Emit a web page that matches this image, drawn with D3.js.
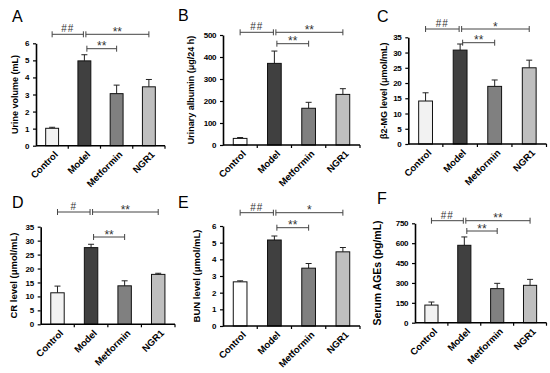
<!DOCTYPE html>
<html>
<head>
<meta charset="utf-8">
<title>Renal function panels</title>
<script src="https://d3js.org/d3.v7.min.js"></script>
<style>
  body { margin: 0; background: #fff; }
  svg text { font-family: Arial, "Liberation Sans", sans-serif; }
</style>
</head>
<body>
<div id="chart"></div>
<script>
// groups shared by all six panels
const categories = ["Control", "Model", "Metformin", "NGR1"];

// values (mean, upper error)
const urineVolume = [1.02, 4.97, 3.05, 3.45];
const urineVolumeErr = [0.06, 0.36, 0.5, 0.43];
const urinaryAlbumin = [30, 371, 167, 230];
const urinaryAlbuminErr = [4, 56, 27, 26];
const b2mgLevel = [14.1, 30.8, 18.9, 25.0];
const b2mgLevelErr = [2.7, 2.0, 2.1, 2.5];
const crLevel = [11.3, 27.5, 13.8, 17.9];
const crLevelErr = [2.4, 1.2, 1.8, 0.4];
const bunLevel = [2.65, 5.16, 3.47, 4.45];
const bunLevelErr = [0.06, 0.24, 0.28, 0.26];
const serumAGEs = [133, 584, 257, 282];
const serumAGEsErr = [23, 63, 40, 45];

// tick labels
const ticksA = [0, 1, 2, 3, 4, 5, 6];
const ticksB = [0, 100, 200, 300, 400, 500];
const ticksC = [0, 5, 10, 15, 20, 25, 30, 35];
const ticksD = [0, 5, 10, 15, 20, 25, 30, 35];
const ticksE = [0, 1, 2, 3, 4, 5, 6];
const ticksF = [0, 150, 300, 450, 600, 750];

// significance marks: [from group, to group, label]
const sigA = [[0, 1, "##"], [1, 3, "**"], [1, 2, "**"]];
const sigB = [[0, 1, "##"], [1, 3, "**"], [1, 2, "**"]];
const sigC = [[0, 1, "##"], [1, 3, "*"], [1, 2, "**"]];
const sigD = [[0, 1, "#"], [1, 3, "**"], [1, 2, "**"]];
const sigE = [[0, 1, "##"], [1, 3, "*"], [1, 2, "**"]];
const sigF = [[0, 1, "##"], [1, 3, "**"], [1, 2, "**"]];

const panels = [
  {letter: "A", title: "Urine volume (mL)", values: urineVolume, err: urineVolumeErr, ticks: ticksA, sig: sigA,
   x0: 36, x1: 165, y0: 145.7, y1: 43.3, lx: 12, ly: 22, tx: 15, tsize: 9, ctrl: "#f2f2f2", b1: 34.3, b2: 48.7},
  {letter: "B", title: "Urinary albumin (\u03bcg/24 h)", values: urinaryAlbumin, err: urinaryAlbuminErr, ticks: ticksB, sig: sigB,
   x0: 223, x1: 360, y0: 145, y1: 35, lx: 178, ly: 21, tx: 191, tsize: 9, ctrl: "#ffffff", b1: 32.3, b2: 43.7},
  {letter: "C", title: "\u03b22-MG level (\u03bcmol/mL)", values: b2mgLevel, err: b2mgLevelErr, ticks: ticksC, sig: sigC,
   x0: 408.3, x1: 546.5, y0: 144, y1: 37.3, lx: 377, ly: 22, tx: 384, tsize: 9, ctrl: "#f2f2f2", b1: 29, b2: 42.7},
  {letter: "D", title: "CR level (\u03bcmol/mL)", values: crLevel, err: crLevelErr, ticks: ticksD, sig: sigD,
   x0: 40.7, x1: 175, y0: 324.3, y1: 226.7, lx: 12, ly: 208, tx: 13, tsize: 9.5, ctrl: "#f2f2f2", b1: 212, b2: 237},
  {letter: "E", title: "BUN  level (\u03bcmol/mL)", values: bunLevel, err: bunLevelErr, ticks: ticksE, sig: sigE,
   x0: 223, x1: 360, y0: 326, y1: 226, lx: 178, ly: 208, tx: 196, tsize: 9.5, ctrl: "#ffffff", b1: 212.7, b2: 227.7},
  {letter: "F", title: "Serum AGEs (pg/mL)", values: serumAGEs, err: serumAGEsErr, ticks: ticksF, sig: sigF,
   x0: 415, x1: 546.5, y0: 322.7, y1: 223.3, lx: 377, ly: 204, tx: 377, tsize: 10.5, ctrl: "#f2f2f2", b1: 220.7, b2: 231}
];

const fills = ["#f2f2f2", "#404040", "#808080", "#bfbfbf"];

const svg = d3.select("#chart").append("svg")
  .attr("width", 550)
  .attr("height", 373);

panels.forEach(function(p) {
  const g = svg.append("g");
  const top = p.ticks[p.ticks.length - 1];

  const x = d3.scaleBand().domain(categories).range([p.x0, p.x1]).paddingInner(0.6).paddingOuter(0.3);
  const y = d3.scaleLinear().domain([0, top]).range([p.y0, p.y1]);

  // panel letter
  g.append("text")
    .attr("x", p.lx).attr("y", p.ly)
    .attr("font-size", 16)
    .text(p.letter);

  // y axis title
  g.append("text")
    .attr("transform", "translate(" + p.tx + "," + ((p.y0 + p.y1) / 2) + ") rotate(-90)")
    .attr("text-anchor", "middle")
    .attr("dominant-baseline", "central")
    .attr("font-size", p.tsize)
    .attr("font-weight", "bold")
    .text(p.title);

  // bars
  const rows = categories.map((c, i) => ({c: c, v: p.values[i], e: p.err[i], i: i}));

  g.selectAll(".err").data(rows).enter().append("path")
    .attr("d", d => {
      const cx = x(d.c) + x.bandwidth() / 2;
      return "M" + cx + "," + y(d.v) + "V" + y(d.v + d.e) + "M" + (cx - 3) + "," + y(d.v + d.e) + "H" + (cx + 3);
    })
    .attr("stroke", "#222")
    .attr("stroke-width", 1)
    .attr("fill", "none");

  g.selectAll(".bar").data(rows).enter().append("rect")
    .attr("x", d => x(d.c))
    .attr("y", d => y(d.v))
    .attr("width", x.bandwidth())
    .attr("height", d => y(0) - y(d.v))
    .attr("fill", d => d.i === 0 ? p.ctrl : fills[d.i])
    .attr("stroke", "#111")
    .attr("stroke-width", 1);

  // y axis
  const yAxis = g.append("g")
    .attr("transform", "translate(" + p.x0 + ",0)")
    .call(d3.axisLeft(y).tickValues(p.ticks).tickFormat(d3.format("d"))
      .tickSize(3).tickSizeOuter(0).tickPadding(4));
  yAxis.select(".domain").attr("stroke", "#000").attr("stroke-width", 1.6);
  yAxis.selectAll(".tick line").attr("stroke", "#000").attr("stroke-width", 1.2);
  yAxis.selectAll(".tick text")
    .attr("font-size", 8)
    .attr("font-weight", "bold")
    .attr("letter-spacing", -0.4)
    .attr("fill", "#000")
    .style("font-family", "Arial, 'Liberation Sans', sans-serif");

  // x axis with ticks between groups
  g.append("line")
    .attr("x1", p.x0).attr("x2", p.x1)
    .attr("y1", y(0)).attr("y2", y(0))
    .attr("stroke", "#000").attr("stroke-width", 1.6);
  const step = x.step();
  const bounds = categories.slice(1).map(c => x(c) - step * x.paddingInner() / 2).concat([p.x1]);
  g.selectAll(".xt").data(bounds).enter().append("line")
    .attr("x1", d => d).attr("x2", d => d)
    .attr("y1", y(0)).attr("y2", y(0) + 3)
    .attr("stroke", "#000").attr("stroke-width", 1.2);

  g.selectAll(".xl").data(categories).enter().append("text")
    .attr("transform", c => "translate(" + (x(c) + x.bandwidth() / 2 + 4) + "," + (y(0) + 7) + ") rotate(-45)")
    .attr("text-anchor", "end")
    .attr("dominant-baseline", "central")
    .attr("font-size", 9.5)
    .attr("font-weight", "bold")
    .text(c => c);

  // significance brackets
  const centre = i => x(categories[i]) + x.bandwidth() / 2;
  p.sig.forEach(function(s, k) {
    const ly = k === 2 ? p.b2 : p.b1;
    let xa = centre(s[0]), xb = centre(s[1]);
    if (k === 0) xb -= 1;
    if (k === 1) xa += 1.5;
    if (k === 2) xa += 2.5;
    g.append("path")
      .attr("d", "M" + xa + "," + ly + "H" + xb +
                 "M" + xa + "," + (ly - 3) + "V" + (ly + 3) +
                 "M" + xb + "," + (ly - 3) + "V" + (ly + 3))
      .attr("stroke", "#444")
      .attr("stroke-width", 1)
      .attr("fill", "none");
    const isStar = s[2].indexOf("*") >= 0;
    g.append("text")
      .attr("x", (xa + xb) / 2)
      .attr("y", isStar ? ly + 1.5 : ly - 2)
      .attr("text-anchor", "middle")
      .attr("font-size", isStar ? 12 : 10)
      .attr("fill", "#333")
      .attr("letter-spacing", isStar ? 0 : 1)
      .text(s[2]);
  });
});
</script>
</body>
</html>
